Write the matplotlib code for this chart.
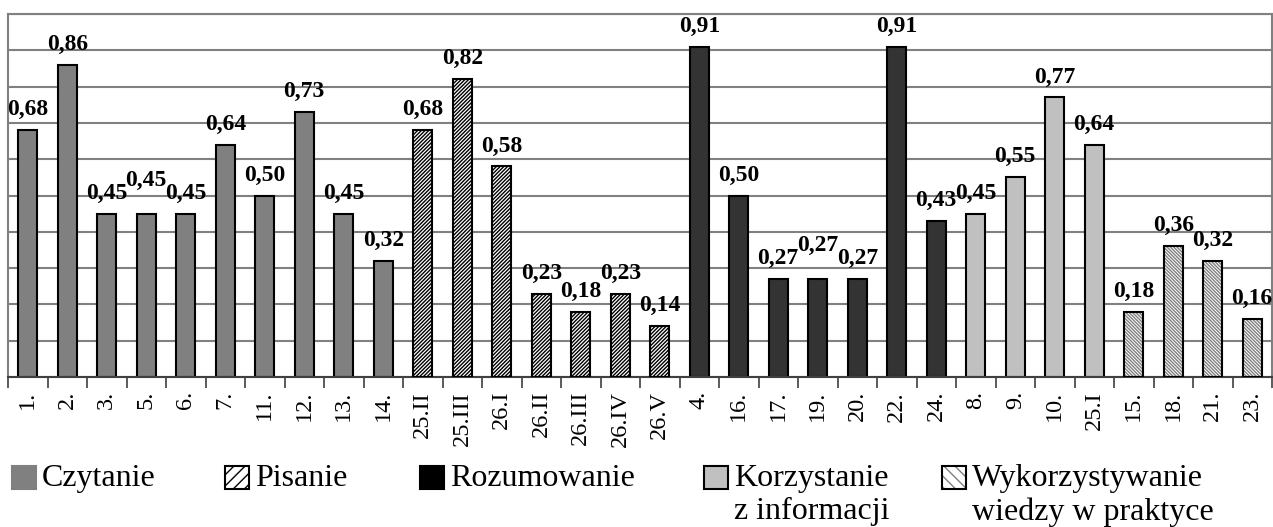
import matplotlib
matplotlib.use('Agg')
import matplotlib.pyplot as plt
from matplotlib.patches import Rectangle
import numpy as np

# categories (task numbers) and results, grouped by skill
categories = ['1.', '2.', '3.', '5.', '6.', '7.', '11.', '12.', '13.', '14.',
              '25.II', '25.III', '26.I', '26.II', '26.III', '26.IV', '26.V',
              '4.', '16.', '17.', '19.', '20.', '22.', '24.',
              '8.', '9.', '10.', '25.I',
              '15.', '18.', '21.', '23.']
values = [0.68, 0.86, 0.45, 0.45, 0.45, 0.64, 0.50, 0.73, 0.45, 0.32,
          0.68, 0.82, 0.58, 0.23, 0.18, 0.23, 0.14,
          0.91, 0.50, 0.27, 0.27, 0.27, 0.91, 0.43,
          0.45, 0.55, 0.77, 0.64,
          0.18, 0.36, 0.32, 0.16]
group_names = ['Czytanie', 'Pisanie', 'Rozumowanie',
               'Korzystanie\nz informacji', 'Wykorzystywanie\nwiedzy w praktyce']
group_sizes = [10, 7, 7, 4, 4]

# style per group: facecolor, hatch, hatch colour
styles = [('#808080', None, None),
          ('white', '/' * 9, 'black'),
          ('#333333', None, None),
          ('#c0c0c0', None, None),
          ('white', '\\' * 10, '#808080')]
legend_fc = ['#808080', 'white', 'black', '#c0c0c0', 'white']

# labels that Excel had nudged upwards (index -> pixels)
label_lift = {3: 13, 20: 13}

W, H = 1273, 527
plt.rcParams['font.family'] = ['Liberation Serif', 'DejaVu Serif']
plt.rcParams['hatch.linewidth'] = 1.0

fig = plt.figure(figsize=(W / 100, H / 100), dpi=100)
ax = fig.add_axes([8 / W, 150 / H, 1264 / W, 363 / H])

x = np.arange(len(categories))
vals = np.array(values)
start = 0
for size, (fc, hatch, hc) in zip(group_sizes, styles):
    idx = x[start:start + size]
    if hatch:
        ax.bar(idx, vals[idx], width=0.48, facecolor=fc, edgecolor=hc,
               hatch=hatch, linewidth=0, zorder=2)
        ax.bar(idx, vals[idx], width=0.48, fill=False, edgecolor='black',
               linewidth=1.5, zorder=3)
    else:
        ax.bar(idx, vals[idx], width=0.48, color=fc, edgecolor='black',
               linewidth=1.5, zorder=2)
    start += size

for i, v in enumerate(values):
    ax.annotate(f'{v:.2f}'.replace('.', ','), (i, v),
                xytext=(0, 10 + label_lift.get(i, 0)), textcoords='offset pixels',
                ha='center', va='bottom', fontsize=17, fontweight='bold')

ax.set_xlim(-0.5, len(categories) - 0.5)
ax.set_ylim(0, 1.0)
ax.set_yticks(np.arange(0, 1.01, 0.1))
ax.yaxis.grid(True, color='#808080', linewidth=1.5, zorder=0)
ax.set_axisbelow(True)
ax.tick_params(axis='y', left=False, labelleft=False)

ax.set_xticks(x)
ax.set_xticklabels(categories, rotation=90, fontsize=17.5)
ax.set_xticks(np.arange(-0.5, len(categories), 1), minor=True)
ax.tick_params(axis='x', which='major', length=0, pad=10)
ax.tick_params(axis='x', which='minor', length=8, width=1.2, color='#404040')

for s in ['top', 'left', 'right']:
    ax.spines[s].set_color('#808080')
    ax.spines[s].set_linewidth(1.5)
ax.spines['bottom'].set_color('#404040')
ax.spines['bottom'].set_linewidth(1.5)

# legend drawn by hand: first line aligned with the swatch
leg_x = [12, 225, 420, 704, 942]
for gx, name, lfc, (fc, hatch, hc) in zip(leg_x, group_names, legend_fc, styles):
    box = ((gx / W, (527 - 489) / H), 24 / W, 23 / H)
    if hatch:
        fig.add_artist(Rectangle(*box, transform=fig.transFigure, facecolor=lfc,
                                 edgecolor=hc, hatch=hatch[:3], linewidth=0))
        fig.add_artist(Rectangle(*box, transform=fig.transFigure, fill=False,
                                 edgecolor='black', linewidth=1.5))
    else:
        fig.add_artist(Rectangle(*box, transform=fig.transFigure, facecolor=lfc,
                                 edgecolor='black' if lfc == '#c0c0c0' else lfc,
                                 linewidth=1.5))
    fig.text((gx + 30) / W, (527 - 464) / H, name, fontsize=23, ha='left',
             va='top', multialignment='left', linespacing=1.18)

fig.savefig('out.png', dpi=100)
